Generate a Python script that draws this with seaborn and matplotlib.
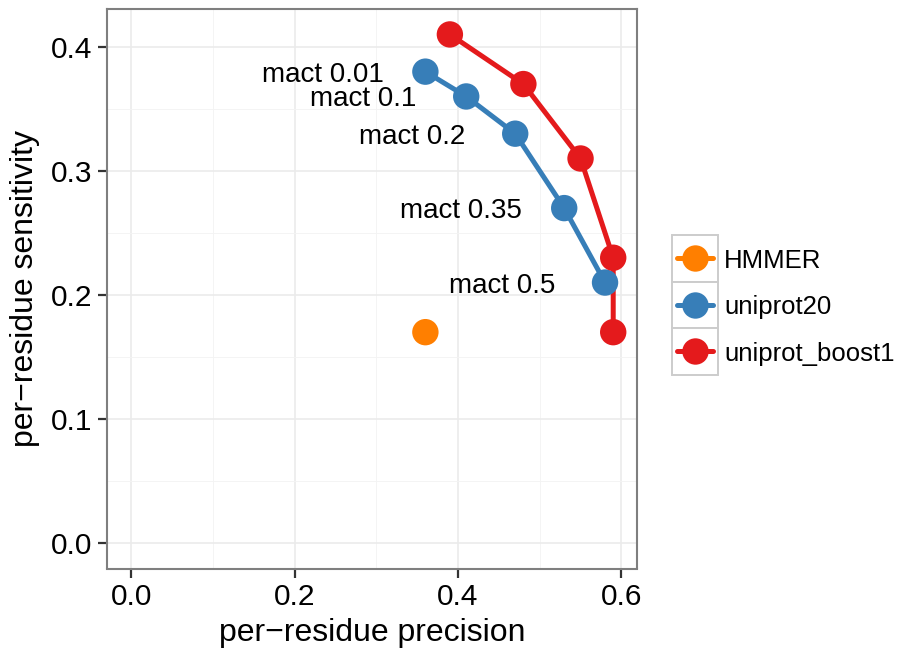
import matplotlib
matplotlib.use("Agg")
import numpy as np
import pandas as pd
import matplotlib.pyplot as plt
import seaborn as sns
from matplotlib.patches import Rectangle
from matplotlib.lines import Line2D

# ---- data ----
methods = ["HMMER", "uniprot20", "uniprot_boost1"]
hmmer_precision = [0.36]
hmmer_sensitivity = [0.17]
uniprot20_precision = [0.36, 0.41, 0.47, 0.53, 0.58]
uniprot20_sensitivity = [0.38, 0.36, 0.33, 0.27, 0.21]
boost_precision = [0.39, 0.48, 0.55, 0.59, 0.59]
boost_sensitivity = [0.41, 0.37, 0.31, 0.23, 0.17]
mact_labels = ["mact 0.01", "mact 0.1", "mact 0.2", "mact 0.35", "mact 0.5"]
x_ticks = [0.0, 0.2, 0.4, 0.6]
y_ticks = [0.0, 0.1, 0.2, 0.3, 0.4]

colors = {"HMMER": "#FF7F00", "uniprot20": "#377EB8", "uniprot_boost1": "#E41A1C"}
LABEL_NUDGE_X = -0.126

df = pd.concat([
    pd.DataFrame({"precision": hmmer_precision, "sensitivity": hmmer_sensitivity, "method": "HMMER"}),
    pd.DataFrame({"precision": uniprot20_precision, "sensitivity": uniprot20_sensitivity, "method": "uniprot20"}),
    pd.DataFrame({"precision": boost_precision, "sensitivity": boost_sensitivity, "method": "uniprot_boost1"}),
], ignore_index=True)

sns.set_theme(style="white")
plt.rcParams["font.family"] = ["Liberation Sans", "DejaVu Sans"]

W, H = 900, 648
fig = plt.figure(figsize=(9, 6.48), dpi=100)
L, R, T, B = 107.3, 637.3, 9.0, 568.5
ax = fig.add_axes([L / W, 1 - B / H, (R - L) / W, (B - T) / H])

sns.lineplot(data=df, x="precision", y="sensitivity", hue="method", hue_order=methods,
             palette=colors, estimator=None, sort=False, linewidth=3.6, legend=False,
             ax=ax, zorder=2)
sns.scatterplot(data=df, x="precision", y="sensitivity", hue="method", hue_order=methods,
                palette=colors, s=19 ** 2, linewidth=0, legend=False, ax=ax, zorder=3)

for xv, yv, lab in zip(uniprot20_precision, uniprot20_sensitivity, mact_labels):
    ax.text(xv + LABEL_NUDGE_X, yv, lab, ha="center", va="center_baseline",
            fontsize=20, color="black")

xmax = max(df["precision"]); ymax = max(df["sensitivity"])
ax.set_xlim(-0.05 * xmax, xmax * 1.05)
ax.set_ylim(-0.05 * ymax, ymax * 1.05)

ax.set_xticks(x_ticks)
ax.set_xticklabels([f"{v:.1f}" for v in x_ticks])
ax.set_yticks(y_ticks)
ax.set_yticklabels([f"{v:.1f}" for v in y_ticks])
ax.set_xticks([0.1, 0.3, 0.5], minor=True)
ax.set_yticks([0.05, 0.15, 0.25, 0.35], minor=True)
ax.grid(which="major", color="#EBEBEB", linewidth=1.2)
ax.grid(which="minor", color="#F3F3F3", linewidth=0.6)
ax.set_axisbelow(True)

ax.tick_params(which="major", bottom=True, left=True, length=6.5, width=1.6, color="#333333",
               labelsize=21.5, pad=4, labelcolor="black", direction="out")
ax.tick_params(which="minor", length=0)
for sp in ax.spines.values():
    sp.set_color("#7F7F7F")
    sp.set_linewidth(1.5)

ax.set_xlabel("per\u2212residue precision", fontsize=23, labelpad=5, color="black")
ax.set_ylabel("per\u2212residue sensitivity", fontsize=23, labelpad=8, color="black")

# ---- legend (manual, ggplot-like boxed keys) ----
key_left, key_w, key_h, key_top = 671.7, 46.6, 46.5, 235.0
for i, m in enumerate(methods):
    y0 = key_top + i * key_h
    yc = 1 - (y0 + key_h / 2) / H
    fig.add_artist(Rectangle((key_left / W, 1 - (y0 + key_h) / H), key_w / W, key_h / H,
                             transform=fig.transFigure, facecolor="white",
                             edgecolor="#CCCCCC", linewidth=1.4))
    fig.add_artist(Line2D([677 / W, 713.3 / W], [yc, yc], transform=fig.transFigure,
                          color=colors[m], linewidth=3.6))
    fig.add_artist(Line2D([(key_left + key_w / 2) / W], [yc], transform=fig.transFigure,
                          marker="o", markersize=19, markeredgewidth=0, color=colors[m],
                          linestyle="none"))
    fig.text(724 / W, yc, m, ha="left", va="center_baseline", fontsize=18.5, color="black")

fig.savefig("out.png", dpi=100)
